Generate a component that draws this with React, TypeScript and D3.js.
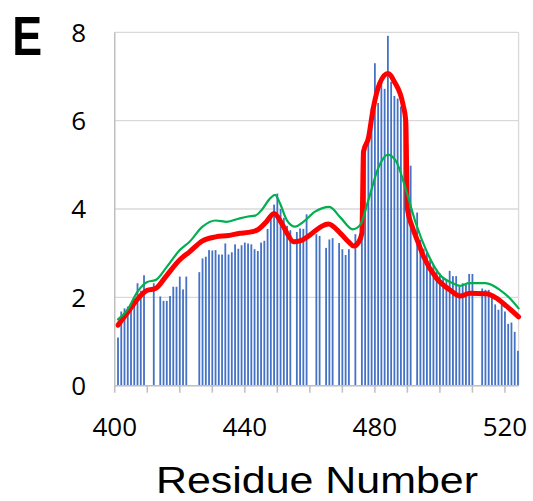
import React from "react";
import * as d3 from "d3";

// Residue numbers that have a bar, and the bar values
const barResidues = [
  401, 402, 403, 404, 405, 406, 407, 408, 409, 412, 414, 415, 416, 417, 418, 419, 420, 421, 422,
  426, 427, 428, 429, 430, 431, 432, 433, 434, 435, 436, 437, 438, 439, 440, 441, 442, 443, 444,
  445, 446, 447, 448, 449, 450, 451, 452, 453, 454, 456, 457, 458, 459, 462, 463, 465, 466, 467,
  469, 470, 471, 472, 474, 476, 477, 478, 479, 480, 481, 482, 483, 484, 485, 486, 487, 488, 489,
  490, 491, 493, 494, 495, 496, 497, 498, 499, 500, 501, 502, 503, 504, 505, 506, 507, 508, 509,
  510, 513, 514, 515, 516, 517, 518, 519, 520, 521, 522, 523, 524,
];
const barValues = [
  1.09, 1.68, 1.75, 1.79, 1.85, 1.94, 2.32, 2.15, 2.5, 2.32, 2.02, 1.92, 1.92, 2.03, 2.24, 2.24, 2.47, 2.18, 2.47,
  2.57, 2.88, 2.92, 3.07, 3.06, 3.07, 2.97, 2.97, 3.22, 2.97, 3.02, 3.2, 3.1, 3.18, 3.24, 3.22, 3.2, 3.09, 3.05,
  3.24, 3.28, 3.55, 3.85, 4.1, 4.35, 4.0, 3.8, 3.62, 3.52, 3.48, 3.56, 3.55, 3.88, 3.43, 3.39, 3.12, 3.31, 3.34,
  3.23, 3.09, 2.96, 3.09, 3.43, 3.7, 5.3, 5.5, 6.28, 7.3, 6.4, 6.9, 6.72, 7.92, 6.88, 6.56, 6.5, 6.32, 6.2,
  5.37, 4.98, 3.92, 3.3, 3.1, 3.03, 2.85, 2.73, 2.63, 2.54, 2.45, 2.39, 2.6, 2.48, 2.48, 2.24, 2.32, 2.28, 2.53,
  2.53, 2.2, 2.17, 2.17, 2.0, 1.84, 1.72, 1.85, 1.68, 1.4, 1.43, 1.22, 0.79,
];

// Red (thick) smoothed profile
const redResidues = [
  401, 404, 407, 410, 412.5, 416, 420, 423, 427, 431, 435, 438.5, 441, 444, 446.5, 449, 451.3, 453,
  455, 457, 460, 463, 465.7, 469.4, 472, 473.5, 475, 476, 476.5, 478, 479.5, 481.5, 484, 486, 488.7,
  489.5, 490, 491.5, 493.2, 495, 499, 503, 506.2, 509.2, 514.3, 517.4, 520.5, 524.2,
];
const redValues = [
  1.37, 1.66, 1.96, 2.16, 2.2, 2.5, 2.85, 3.03, 3.28, 3.37, 3.4, 3.45, 3.47, 3.53, 3.7, 3.9, 3.68, 3.45,
  3.26, 3.28, 3.41, 3.58, 3.66, 3.45, 3.25, 3.16, 3.25, 3.45, 5.3, 5.6, 6.28, 6.85, 7.07, 6.88, 6.35,
  6.0, 4.0, 3.6, 3.26, 2.92, 2.43, 2.17, 2.03, 2.09, 2.08, 1.98, 1.8, 1.56,
];

// Green (thin) smoothed profile
const greenResidues = [
  401, 404, 407, 410, 412.5, 416, 420, 423, 427, 431, 434.5, 438, 441, 443.2, 445.2, 447.8, 449.3,
  450.8, 452.9, 455.5, 458, 461.6, 466, 469.5, 473.2, 475.5, 478, 481, 484, 486.6, 489.5, 492.5, 496,
  500, 504, 506.2, 509, 514, 518.4, 521.5, 524.2,
];
const greenValues = [
  1.5, 1.73, 2.13, 2.35, 2.39, 2.69, 3.07, 3.26, 3.6, 3.74, 3.71, 3.78, 3.83, 3.85, 3.98, 4.24, 4.32,
  4.13, 3.75, 3.6, 3.71, 3.94, 4.05, 3.8, 3.54, 3.64, 4.2, 4.92, 5.23, 5.07, 4.45, 3.7, 3.03,
  2.51, 2.32, 2.26, 2.32, 2.32, 2.17, 1.98, 1.75,
];

const yTicks = [0, 2, 4, 6, 8];
const xTickMarks = [400, 410, 420, 430, 440, 450, 460, 470, 480, 490, 500, 510, 520];
const xTickLabels = [400, 440, 480, 520];

export default function App() {
  const W = 533;
  const H = 501;
  const left = 114.75;
  const right = 518.6;
  const top = 32.3;
  const bottom = 385.7;

  const x = d3.scaleLinear().domain([400, 524.2]).range([left, right]);
  const y = d3.scaleLinear().domain([0, 8]).range([bottom, top]);

  const redLine = d3
    .line<number>()
    .x((_, i) => x(redResidues[i]))
    .y((d) => y(d))
    .curve(d3.curveMonotoneX);
  const greenLine = d3
    .line<number>()
    .x((_, i) => x(greenResidues[i]))
    .y((d) => y(d))
    .curve(d3.curveMonotoneX);

  const barW = 1.8;
  const tickFont = "'Open Sans', 'Liberation Sans', sans-serif";

  return (
    <svg
      width={W}
      height={H}
      style={{ position: "absolute", left: 0, top: 0, background: "#fff" }}
    >
      <rect x={0} y={0} width={W} height={H} fill="#fff" />
      {yTicks.map((t) => (
        <line
          key={"g" + t}
          x1={left}
          x2={right}
          y1={y(t)}
          y2={y(t)}
          stroke="#D9D9D9"
          strokeWidth={1.3}
        />
      ))}
      <line x1={right} x2={right} y1={top} y2={bottom} stroke="#D9D9D9" strokeWidth={1.3} />
      {barResidues.map((r, i) => (
        <rect
          key={"b" + r}
          x={x(r) - barW / 2}
          y={y(barValues[i])}
          width={barW}
          height={y(0) - y(barValues[i])}
          fill="#4472C4"
        />
      ))}
      <path d={redLine(redValues) || ""} fill="none" stroke="#FF0000" strokeWidth={5} strokeLinejoin="round" strokeLinecap="round" />
      <path d={greenLine(greenValues) || ""} fill="none" stroke="#00B050" strokeWidth={2.2} strokeLinejoin="round" strokeLinecap="round" />
      <line x1={left} x2={left} y1={top} y2={bottom} stroke="#BFBFBF" strokeWidth={1.5} />
      <line x1={left} x2={right} y1={bottom} y2={bottom} stroke="#BFBFBF" strokeWidth={1.5} />
      {xTickMarks.map((t) => (
        <line
          key={"t" + t}
          x1={x(t)}
          x2={x(t)}
          y1={bottom}
          y2={bottom + 7}
          stroke="#BFBFBF"
          strokeWidth={1.5}
        />
      ))}
      {yTicks.map((t) => (
        <text
          key={"yl" + t}
          x={86}
          y={y(t) + 9.3}
          textAnchor="end"
          fontFamily={tickFont}
          fontSize={26}
          fill="#000"
        >
          {t}
        </text>
      ))}
      {xTickLabels.map((t) => (
        <text
          key={"xl" + t}
          x={x(t)}
          y={436}
          textAnchor="middle"
          fontFamily={tickFont}
          fontSize={26}
          fill="#000"
        >
          {t}
        </text>
      ))}
      <text
        x={156}
        y={493.3}
        fontFamily="'Liberation Sans', Arial, sans-serif"
        fontSize={37}
        textLength={322}
        lengthAdjust="spacingAndGlyphs"
        fill="#000"
      >
        Residue Number
      </text>
      <text
        transform="translate(12.2,55) scale(0.8,1)"
        fontFamily="'Liberation Sans', Arial, sans-serif"
        fontWeight="bold"
        fontSize={56}
        fill="#000"
      >
        E
      </text>
    </svg>
  );
}
